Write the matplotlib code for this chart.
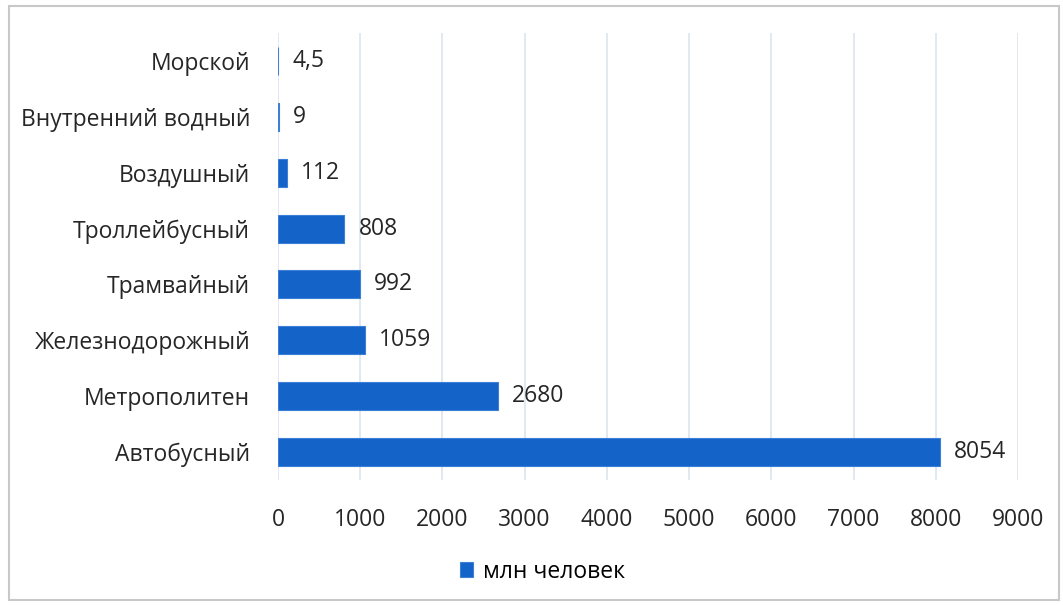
import matplotlib.pyplot as plt
from matplotlib.patches import Rectangle

categories = ['Автобусный', 'Метрополитен', 'Железнодорожный', 'Трамвайный',
              'Троллейбусный', 'Воздушный', 'Внутренний водный', 'Морской']
values = [8054, 2680, 1059, 992, 808, 112, 9, 4.5]
value_labels = ['8054', '2680', '1059', '992', '808', '112', '9', '4,5']
series_name = 'млн человек'
x_ticks = [0, 1000, 2000, 3000, 4000, 5000, 6000, 7000, 8000, 9000]

plt.rcParams['font.family'] = ['Open Sans', 'DejaVu Sans']

fig = plt.figure(figsize=(10.63, 6.05), dpi=100)
ax = fig.add_axes([0.2615, 0.2066, 0.6962, 0.7389])

pos = list(range(len(categories)))
bars = ax.barh(pos, values, height=0.5, color='#1463C9', edgecolor='#3B7FD6',
               linewidth=0.8, label=series_name, zorder=3)

for p, v, t in zip(pos, values, value_labels):
    ax.text(v + 170, p, t, va='center', ha='left', fontsize=16.5, color='#262626')

ax.set_xlim(0, 9000)
ax.set_ylim(-0.5, len(categories) - 0.5)
ax.set_xticks(x_ticks)
ax.set_yticks(pos)
ax.set_yticklabels(categories)
ax.tick_params(axis='both', length=0, labelsize=16.5, colors='#262626')
ax.tick_params(axis='x', pad=20)
ax.tick_params(axis='y', pad=20)
ax.grid(axis='x', color='#DDE4EC', linewidth=1.2, zorder=0)
for s in ax.spines.values():
    s.set_visible(False)

fig.legend(handles=[bars], labels=[series_name], loc='center',
           bbox_to_anchor=(0.51, 0.055), frameon=False, fontsize=16.5,
           handlelength=0.6, handleheight=0.6, handletextpad=0.4)

fig.patches.append(Rectangle((0.008, 0.008), 0.988, 0.982, transform=fig.transFigure,
                             fill=False, edgecolor='#C8C8C8', linewidth=1.5))

fig.savefig('out.png', dpi=100)
